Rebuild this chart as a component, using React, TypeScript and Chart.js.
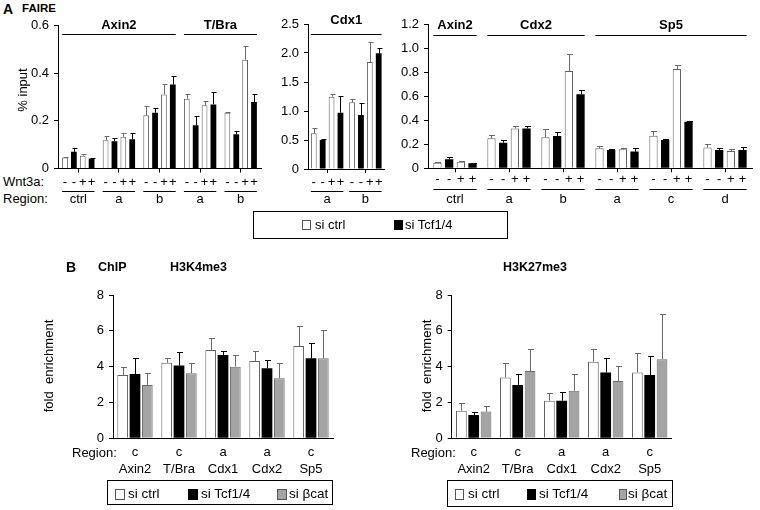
import React, { useEffect, useRef } from "react";
import { Chart, registerables } from "chart.js";
Chart.register(...registerables);

const FONT = "'Liberation Sans', Arial, Helvetica, sans-serif";

// ---------------- Panel A : FAIRE ----------------
const wnt3aSigns = ["-", "-", "+", "+"];

// A1 : Axin2 / T/Bra  (% input)
const a1Regions = ["ctrl", "a", "b", "a", "b"];
const a1Genes = [
  { label: "Axin2", from: 0, to: 2 },
  { label: "T/Bra", from: 3, to: 4 },
];
const a1CtrlMinus = [0.046, 0.119, 0.223, 0.293, 0.234];
const a1TcfMinus = [0.07, 0.114, 0.234, 0.181, 0.144];
const a1CtrlPlus = [0.054, 0.133, 0.311, 0.265, 0.456];
const a1TcfPlus = [0.042, 0.123, 0.352, 0.269, 0.279];
const a1CtrlMinusErr = [0.004, 0.019, 0.041, 0.021, 0.005];
const a1TcfMinusErr = [0.017, 0.016, 0.021, 0.041, 0.015];
const a1CtrlPlusErr = [0.005, 0.018, 0.042, 0.018, 0.06];
const a1TcfPlusErr = [0.003, 0.028, 0.035, 0.051, 0.032];

// A2 : Cdx1
const a2Regions = ["a", "b"];
const a2Genes = [{ label: "Cdx1", from: 0, to: 1 }];
const a2CtrlMinus = [0.615, 1.149];
const a2TcfMinus = [0.5, 0.931];
const a2CtrlPlus = [1.247, 1.845];
const a2TcfPlus = [0.971, 1.994];
const a2CtrlMinusErr = [0.1, 0.06];
const a2TcfMinusErr = [0.01, 0.2];
const a2CtrlPlusErr = [0.05, 0.34];
const a2TcfPlusErr = [0.29, 0.1];

// A3 : Axin2 / Cdx2 / Sp5
const a3Regions = ["ctrl", "a", "b", "a", "c", "d"];
const a3Genes = [
  { label: "Axin2", from: 0, to: 0 },
  { label: "Cdx2", from: 1, to: 2 },
  { label: "Sp5", from: 3, to: 5 },
];
const a3CtrlMinus = [0.047, 0.249, 0.258, 0.166, 0.271, 0.172];
const a3TcfMinus = [0.075, 0.213, 0.269, 0.152, 0.235, 0.152];
const a3CtrlPlus = [0.055, 0.332, 0.809, 0.158, 0.825, 0.144];
const a3TcfPlus = [0.042, 0.332, 0.615, 0.139, 0.388, 0.152];
const a3CtrlMinusErr = [0.003, 0.025, 0.069, 0.022, 0.039, 0.028];
const a3TcfMinusErr = [0.016, 0.022, 0.036, 0.005, 0.006, 0.014];
const a3CtrlPlusErr = [0.004, 0.02, 0.141, 0.008, 0.034, 0.014];
const a3TcfPlusErr = [0.002, 0.02, 0.036, 0.027, 0.008, 0.023];

// ---------------- Panel B : ChIP ----------------
const bGenes = ["Axin2", "T/Bra", "Cdx1", "Cdx2", "Sp5"];
const bRegions = ["c", "c", "a", "a", "c"];

// H3K4me3
const k4Ctrl = [3.53, 4.22, 4.93, 4.32, 5.15];
const k4Tcf = [3.59, 4.06, 4.65, 3.91, 4.47];
const k4Bcat = [2.98, 3.63, 4.0, 3.35, 4.47];
const k4CtrlErr = [0.43, 0.28, 0.65, 0.55, 1.12];
const k4TcfErr = [0.88, 0.74, 0.21, 0.46, 0.83];
const k4BcatErr = [0.69, 0.56, 0.63, 0.84, 1.58];

// H3K27me3
const k27Ctrl = [1.54, 3.4, 2.1, 4.28, 3.68];
const k27Tcf = [1.3, 2.98, 2.1, 3.68, 3.53];
const k27Bcat = [1.49, 3.76, 2.66, 3.2, 4.41];
const k27CtrlErr = [0.41, 0.79, 0.45, 0.71, 1.06];
const k27TcfErr = [0.19, 0.59, 0.5, 0.82, 1.07];
const k27BcatErr = [0.31, 1.23, 0.91, 0.86, 2.53];

// ---------------- styling ----------------
type Kind = "white" | "black" | "gray";
const STYLE: Record<Kind, { fill: string; border: string; err: string; bw: number }> = {
  white: { fill: "#ffffff", border: "#5f5f5f", err: "#6a6a6a", bw: 1 },
  black: { fill: "#000000", border: "#000000", err: "#000000", bw: 0 },
  gray: { fill: "#a4a4a4", border: "#6a6a6a", err: "#6a6a6a", bw: 1 },
};

interface DS {
  label: string;
  kind: Kind;
  data: number[];
  err: number[];
}

interface PanelCfg {
  area: { left: number; right: number; top: number; bottom: number };
  yMax: number;
  yStep: number;
  decimals: number;
  labels: (string | string[])[];
  datasets: DS[];
  catPct: number;
  barPct: number;
  xTickLen: number;
  xLabelPad: number;
  cap: number;
  genes?: { label: string; from: number; to: number }[];
  geneTextY?: number;
  geneLineY?: number;
  signs?: string[];
  signY?: number;
  regionLineY?: number;
  yTitle: string;
  yTitleX: number;
  yTitleY: number;
}

const Y_W = 44;
const X_H = 40;

function makeAnnot(cfg: PanelCfg) {
  return {
    id: "annot",
    afterDatasetsDraw(chart: any) {
      const ctx = chart.ctx as CanvasRenderingContext2D;
      const ys = chart.scales.y;
      ctx.save();
      ctx.lineWidth = 1;
      cfg.datasets.forEach((d, i) => {
        const meta = chart.getDatasetMeta(i);
        ctx.strokeStyle = STYLE[d.kind].err;
        d.data.forEach((v, j) => {
          const el = meta.data[j];
          if (!el) return;
          const x = Math.round(el.x) + 0.5;
          const yTop = Math.round(ys.getPixelForValue(v + d.err[j])) + 0.5;
          ctx.beginPath();
          ctx.moveTo(x, el.y);
          ctx.lineTo(x, yTop);
          ctx.moveTo(x - cfg.cap, yTop);
          ctx.lineTo(x + cfg.cap + 1, yTop);
          ctx.stroke();
        });
      });
      ctx.restore();
    },
    afterDraw(chart: any) {
      const ctx = chart.ctx as CanvasRenderingContext2D;
      const n = cfg.datasets.length;
      const el = (i: number, j: number) => chart.getDatasetMeta(i).data[j];
      const bl = (i: number, j: number) => el(i, j).x - el(i, j).width / 2;
      const br = (i: number, j: number) => el(i, j).x + el(i, j).width / 2;
      ctx.save();
      ctx.fillStyle = "#000";
      ctx.strokeStyle = "#000";
      ctx.lineWidth = 1;
      // y axis title
      if (cfg.yTitle) {
        ctx.save();
        ctx.translate(cfg.yTitleX, cfg.yTitleY);
        ctx.rotate(-Math.PI / 2);
        ctx.font = `13px ${FONT}`;
        ctx.textAlign = "center";
        ctx.textBaseline = "middle";
        ctx.fillText(cfg.yTitle, 0, 0);
        ctx.restore();
      }
      // gene group titles
      if (cfg.genes) {
        ctx.font = `bold 13px ${FONT}`;
        ctx.textAlign = "center";
        ctx.textBaseline = "middle";
        cfg.genes.forEach((g) => {
          const l = bl(0, g.from);
          const r = br(n - 1, g.to);
          ctx.beginPath();
          ctx.moveTo(l, Math.round(cfg.geneLineY!) + 0.5);
          ctx.lineTo(r, Math.round(cfg.geneLineY!) + 0.5);
          ctx.stroke();
          ctx.fillText(g.label, (l + r) / 2, cfg.geneTextY!);
        });
      }
      // Wnt3a signs + region underline
      if (cfg.signs) {
        ctx.font = `13px ${FONT}`;
        ctx.textAlign = "center";
        ctx.textBaseline = "middle";
        cfg.labels.forEach((_, j) => {
          cfg.signs!.forEach((s, i) => {
            ctx.fillText(s, el(i, j).x, cfg.signY!);
          });
          const l = bl(0, j);
          const r = br(n - 1, j);
          ctx.beginPath();
          ctx.moveTo(l, Math.round(cfg.regionLineY!) + 0.5);
          ctx.lineTo(r, Math.round(cfg.regionLineY!) + 0.5);
          ctx.stroke();
        });
      }
      ctx.restore();
    },
  };
}

function buildConfig(cfg: PanelCfg): any {
  const a = cfg.area;
  return {
    type: "bar",
    data: {
      labels: cfg.labels,
      datasets: cfg.datasets.map((d) => ({
        label: d.label,
        data: d.data,
        backgroundColor: STYLE[d.kind].fill,
        borderColor: STYLE[d.kind].border,
        borderWidth: STYLE[d.kind].bw,
        borderSkipped: "bottom",
        categoryPercentage: cfg.catPct,
        barPercentage: cfg.barPct,
      })),
    },
    options: {
      responsive: false,
      animation: false,
      devicePixelRatio: 1,
      events: [],
      layout: {
        padding: {
          left: a.left - Y_W,
          right: 760 - a.right,
          top: a.top,
          bottom: 510 - a.bottom - X_H,
        },
      },
      plugins: { legend: { display: false }, tooltip: { enabled: false } },
      scales: {
        x: {
          type: "category",
          offset: true,
          grid: {
            display: true,
            drawOnChartArea: false,
            drawTicks: cfg.xTickLen > 0,
            tickLength: cfg.xTickLen,
            offset: false,
            color: "#000",
            lineWidth: 1,
          },
          border: { display: true, color: "#000", width: 1 },
          ticks: {
            font: { family: FONT, size: 13, lineHeight: 1.25 },
            color: "#000",
            padding: cfg.xLabelPad,
            maxRotation: 0,
            minRotation: 0,
            autoSkip: false,
          },
          afterFit(s: any) {
            s.height = X_H;
          },
        },
        y: {
          min: 0,
          max: cfg.yMax,
          grid: { drawOnChartArea: false, tickLength: 4, color: "#000", lineWidth: 1 },
          border: { display: true, color: "#000", width: 1 },
          ticks: {
            stepSize: cfg.yStep,
            font: { family: FONT, size: 13 },
            color: "#000",
            padding: 5,
            callback: (v: any) => (Number(v) === 0 ? "0" : Number(v).toFixed(cfg.decimals)),
          },
          afterFit(s: any) {
            s.width = Y_W;
          },
        },
      },
    },
    plugins: [makeAnnot(cfg)],
  };
}

function Panel({ cfg }: { cfg: PanelCfg }) {
  const ref = useRef<HTMLCanvasElement>(null);
  useEffect(() => {
    const chart = new Chart(ref.current!, buildConfig(cfg));
    return () => chart.destroy();
  }, [cfg]);
  return (
    <canvas
      ref={ref}
      width={760}
      height={510}
      style={{ position: "absolute", left: 0, top: 0, width: 760, height: 510, pointerEvents: "none" }}
    />
  );
}

const faireSets = (
  cm: number[], tm: number[], cp: number[], tp: number[],
  cme: number[], tme: number[], cpe: number[], tpe: number[]
): DS[] => [
  { label: "si ctrl, Wnt3a -", kind: "white", data: cm, err: cme },
  { label: "si Tcf1/4, Wnt3a -", kind: "black", data: tm, err: tme },
  { label: "si ctrl, Wnt3a +", kind: "white", data: cp, err: cpe },
  { label: "si Tcf1/4, Wnt3a +", kind: "black", data: tp, err: tpe },
];

const chipSets = (c: number[], t: number[], b: number[], ce: number[], te: number[], be: number[]): DS[] => [
  { label: "si ctrl", kind: "white", data: c, err: ce },
  { label: "si Tcf1/4", kind: "black", data: t, err: te },
  { label: "si βcat", kind: "gray", data: b, err: be },
];

const A1: PanelCfg = {
  area: { left: 58, right: 261, top: 25.5, bottom: 168.5 },
  yMax: 0.6, yStep: 0.2, decimals: 1,
  labels: a1Regions,
  datasets: faireSets(a1CtrlMinus, a1TcfMinus, a1CtrlPlus, a1TcfPlus, a1CtrlMinusErr, a1TcfMinusErr, a1CtrlPlusErr, a1TcfPlusErr),
  catPct: 0.874, barPct: 0.65, xTickLen: 4, xLabelPad: 18.5, cap: 2,
  genes: a1Genes, geneTextY: 25, geneLineY: 34,
  signs: wnt3aSigns, signY: 182, regionLineY: 190.5,
  yTitle: "% input", yTitleX: 23, yTitleY: 90,
};

const A2: PanelCfg = {
  area: { left: 308, right: 384.5, top: 24, bottom: 169 },
  yMax: 2.5, yStep: 0.5, decimals: 1,
  labels: a2Regions,
  datasets: faireSets(a2CtrlMinus, a2TcfMinus, a2CtrlPlus, a2TcfPlus, a2CtrlMinusErr, a2TcfMinusErr, a2CtrlPlusErr, a2TcfPlusErr),
  catPct: 0.93, barPct: 0.65, xTickLen: 4, xLabelPad: 18, cap: 2,
  genes: a2Genes, geneTextY: 20, geneLineY: 34,
  signs: wnt3aSigns, signY: 182, regionLineY: 190.5,
  yTitle: "", yTitleX: 0, yTitleY: 0,
};

const A3: PanelCfg = {
  area: { left: 428, right: 752, top: 24, bottom: 168.3 },
  yMax: 1.2, yStep: 0.2, decimals: 1,
  labels: a3Regions,
  datasets: faireSets(a3CtrlMinus, a3TcfMinus, a3CtrlPlus, a3TcfPlus, a3CtrlMinusErr, a3TcfMinusErr, a3CtrlPlusErr, a3TcfPlusErr),
  catPct: 0.865, barPct: 0.71, xTickLen: 4, xLabelPad: 19, cap: 2.5,
  genes: a3Genes, geneTextY: 25, geneLineY: 35,
  signs: wnt3aSigns, signY: 179, regionLineY: 189,
  yTitle: "", yTitleX: 0, yTitleY: 0,
};

const bLabels = bGenes.map((g, i) => [bRegions[i], g]);

const B1: PanelCfg = {
  area: { left: 113, right: 333, top: 295, bottom: 438.3 },
  yMax: 8, yStep: 2, decimals: 0,
  labels: bLabels,
  datasets: chipSets(k4Ctrl, k4Tcf, k4Bcat, k4CtrlErr, k4TcfErr, k4BcatErr),
  catPct: 0.84, barPct: 0.87, xTickLen: 0, xLabelPad: 6.3, cap: 2.5,
  yTitle: "fold  enrichment", yTitleX: 49, yTitleY: 366,
};

const B2: PanelCfg = {
  area: { left: 451.7, right: 671.7, top: 295, bottom: 438.3 },
  yMax: 8, yStep: 2, decimals: 0,
  labels: bLabels,
  datasets: chipSets(k27Ctrl, k27Tcf, k27Bcat, k27CtrlErr, k27TcfErr, k27BcatErr),
  catPct: 0.84, barPct: 0.87, xTickLen: 0, xLabelPad: 6.3, cap: 2.5,
  yTitle: "fold  enrichment", yTitleX: 427, yTitleY: 366,
};

function T({ x, y, size = 13, bold = false, children }: { x: number; y: number; size?: number; bold?: boolean; children: any }) {
  return (
    <div
      style={{
        position: "absolute",
        left: x,
        top: y - size * 0.6,
        fontFamily: FONT,
        fontSize: size,
        fontWeight: bold ? "bold" : "normal",
        lineHeight: `${size * 1.2}px`,
        whiteSpace: "nowrap",
        color: "#000",
      }}
    >
      {children}
    </div>
  );
}

function Sq({ x, y, w, h, kind }: { x: number; y: number; w: number; h: number; kind: Kind }) {
  const s = STYLE[kind];
  return (
    <div
      style={{
        position: "absolute",
        left: x,
        top: y - h / 2,
        width: w,
        height: h,
        boxSizing: "border-box",
        background: s.fill,
        border: `1px solid ${kind === "black" ? "#000" : "#555"}`,
      }}
    />
  );
}

function Box({ l, t, r, b }: { l: number; t: number; r: number; b: number }) {
  return (
    <div
      style={{
        position: "absolute",
        left: l,
        top: t,
        width: r - l,
        height: b - t,
        boxSizing: "border-box",
        border: "1.5px solid #000",
      }}
    />
  );
}

export default function App() {
  return (
    <div style={{ position: "absolute", left: 0, top: 0, width: 760, height: 510, overflow: "hidden", background: "#fff" }}>
      {/* Panel A */}
      <T x={3} y={9} size={14} bold>A</T>
      <T x={22} y={9} size={11.5} bold>FAIRE</T>
      <T x={3} y={181.5} size={13}>Wnt3a:</T>
      <T x={3} y={199} size={13}>Region:</T>
      <Panel cfg={A1} />
      <Panel cfg={A2} />
      <Panel cfg={A3} />
      <Box l={253} t={211} r={508} b={239} />
      <Sq x={302} y={224.5} w={9} h={10} kind="white" />
      <T x={315} y={225} size={13}>si ctrl</T>
      <Sq x={394} y={224.5} w={9} h={10} kind="black" />
      <T x={405} y={225} size={13}>si Tcf1/4</T>

      {/* Panel B */}
      <T x={66} y={267} size={14} bold>B</T>
      <T x={98} y={267} size={12.5} bold>ChIP</T>
      <T x={170} y={267} size={12.5} bold>H3K4me3</T>
      <T x={503} y={267} size={12.5} bold>H3K27me3</T>
      <T x={72} y={453} size={13}>Region:</T>
      <T x={411} y={453} size={13}>Region:</T>
      <Panel cfg={B1} />
      <Panel cfg={B2} />
      <Box l={107} t={480} r={333} b={505} />
      <Sq x={115} y={494} w={10} h={11} kind="white" />
      <T x={128} y={494.5} size={13.5}>si ctrl</T>
      <Sq x={188} y={494} w={10} h={11} kind="black" />
      <T x={201} y={494.5} size={13.5}>si Tcf1/4</T>
      <Sq x={277} y={494} w={10} h={11} kind="gray" />
      <T x={289} y={494.5} size={13.5}>si βcat</T>

      <Box l={447} t={480} r={673} b={507} />
      <Sq x={455} y={494} w={9} h={11} kind="white" />
      <T x={468} y={494.5} size={13.5}>si ctrl</T>
      <Sq x={527} y={494} w={9} h={11} kind="black" />
      <T x={539} y={494.5} size={13.5}>si Tcf1/4</T>
      <Sq x={619} y={494} w={8} h={11} kind="gray" />
      <T x={628} y={494.5} size={13.5}>si βcat</T>
    </div>
  );
}
